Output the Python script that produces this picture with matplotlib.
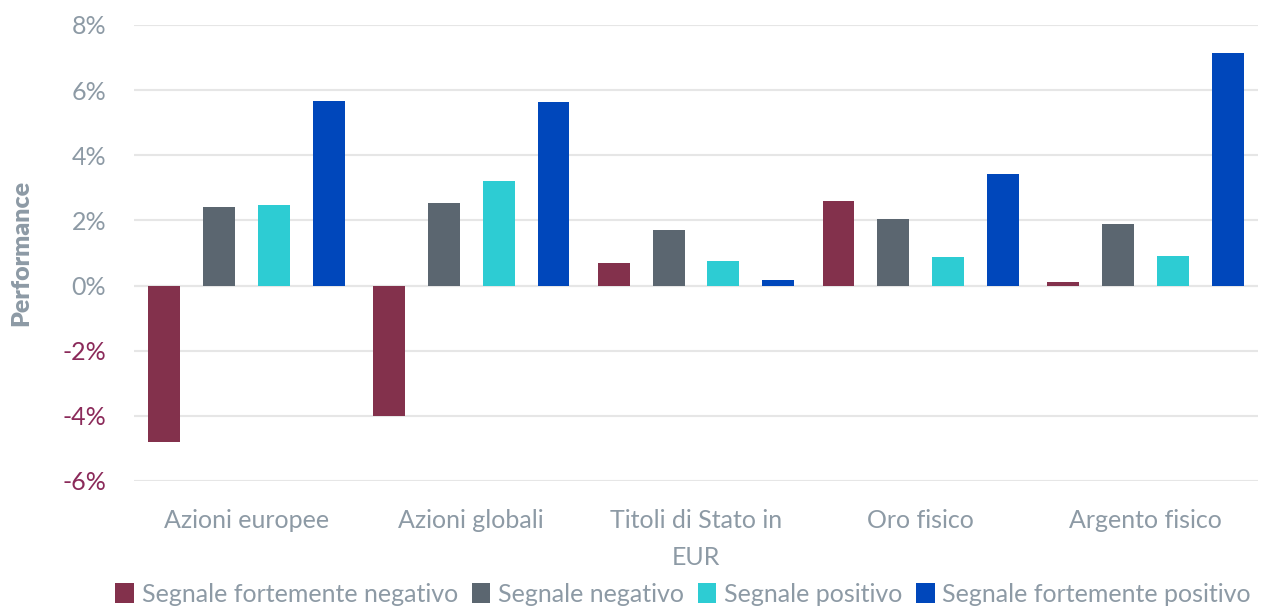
import matplotlib
matplotlib.use("Agg")
import matplotlib.pyplot as plt
import numpy as np
from matplotlib.ticker import FuncFormatter

plt.rcParams['font.family'] = ['Lato', 'DejaVu Sans']

categories = ["Azioni europee", "Azioni globali", "Titoli di Stato in\nEUR", "Oro fisico", "Argento fisico"]
series_names = ["Segnale fortemente negativo", "Segnale negativo", "Segnale positivo", "Segnale fortemente positivo"]
strong_neg = [-4.80, -4.01, 0.70, 2.60, 0.12]
neg = [2.42, 2.54, 1.71, 2.05, 1.90]
pos = [2.48, 3.21, 0.76, 0.89, 0.92]
strong_pos = [5.66, 5.63, 0.18, 3.43, 7.13]
colors = ["#83314c", "#5b6670", "#2dccd3", "#0047bb"]
yticks = [-6, -4, -2, 0, 2, 4, 6, 8]

grey_text = "#8d9aa5"
neg_text = "#8b2a5a"

fig = plt.figure(figsize=(12.68, 6.08), dpi=100)
ax = fig.add_axes([134/1268, 1 - 481/608, (1258-134)/1268, (481-25)/608])

x = np.arange(len(categories))
width = 0.142
offsets = np.array([-1.5, -0.5, 0.5, 1.5]) * 0.244
all_series = [strong_neg, neg, pos, strong_pos]
for i, (vals, name) in enumerate(zip(all_series, series_names)):
    ax.bar(x + offsets[i], vals, width, color=colors[i], label=name, zorder=3)

ax.set_xlim(-0.5, len(categories) - 0.5)
ax.set_ylim(-6, 8)
ax.set_yticks(yticks)
ax.yaxis.set_major_formatter(FuncFormatter(lambda v, p: f"{v:.0f}%"))
ax.grid(axis='y', color='#e6e6e6', linewidth=1.5, zorder=0)
ax.axhline(0, color='#e6e6e6', linewidth=1.5, zorder=1)
for s in ax.spines.values():
    s.set_visible(False)
ax.tick_params(axis='both', length=0, labelsize=18)
ax.tick_params(axis='y', pad=20)
ax.tick_params(axis='x', pad=20)
ax.set_xticks(x)
ax.set_xticklabels(categories, color=grey_text, linespacing=1.75)
for lbl, v in zip(ax.get_yticklabels(), yticks):
    lbl.set_color(neg_text if v < 0 else grey_text)

fig.text(21/1268, 1 - 253/608, "Performance", rotation=90, fontsize=18, fontweight='heavy',
         color=grey_text, ha='center', va='center')

leg = fig.legend(loc='center', bbox_to_anchor=(683/1268, 1 - 594/608), ncol=4, frameon=False,
                 fontsize=18, handlelength=0.75, handleheight=0.9, handletextpad=0.3,
                 columnspacing=0.55, borderaxespad=0)
for t in leg.get_texts():
    t.set_color(grey_text)

fig.savefig("out.png", dpi=100)
